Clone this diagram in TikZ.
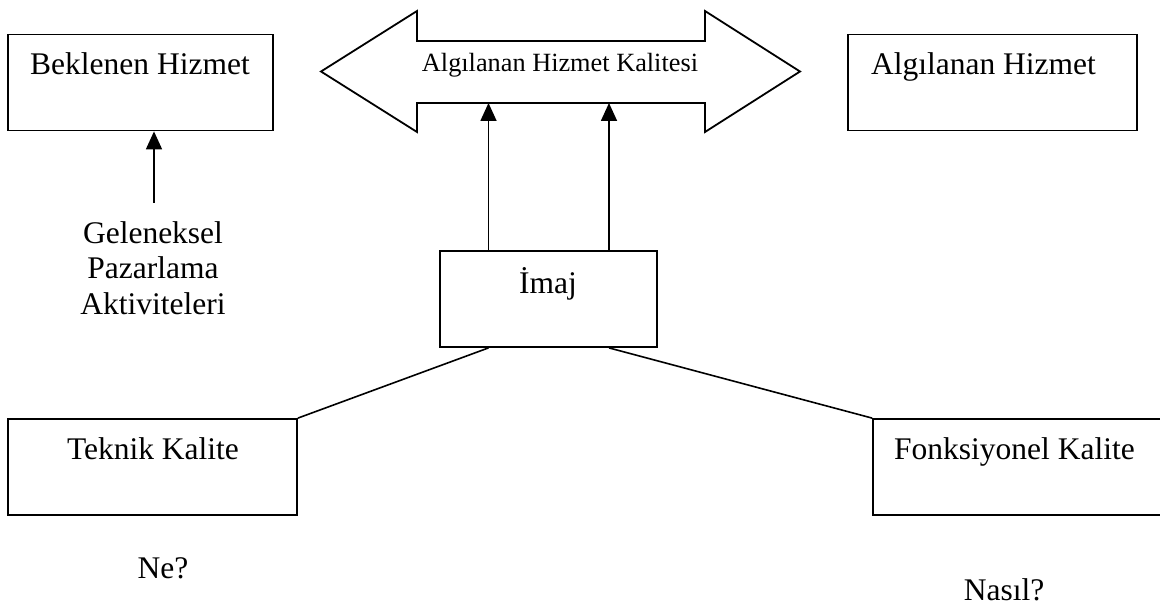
\documentclass[tikz,border=0pt]{standalone}
\usepackage{fontspec}
\setmainfont{Liberation Serif}
\usetikzlibrary{arrows.meta}
\begin{document}
\begin{tikzpicture}[x=1pt,y=-1pt,
  box/.style={draw, line width=1.8pt, inner sep=0pt, minimum width=#1, minimum height=96pt},
  lbl/.style={inner sep=0pt, anchor=base, font=\fontsize{31.5}{35.5}\selectfont},
  link/.style={line width=1.6pt},
  uparrow/.style={line width=1.7pt, -{Triangle[width=16pt,length=18pt]}}]
\useasboundingbox (0,0) rectangle (1160,607);

% boxes
\node[box=265pt] (bek) at (140.5,82.5) {};
\node[box=289pt] (alg) at (992.5,82.5) {};
\node[box=217pt] (imaj) at (548.5,299) {};
\node[box=289pt] (tek) at (152.5,467) {};
\node[box=297pt] (fonk) at (1021.5,467) {};

% box texts
\node[lbl] (bekt) at (140,75) {Beklenen Hizmet};
\node[lbl] (algt) at (983.5,75) {Algılanan Hizmet};
\node[lbl] (imajt) at (548,293) {İmaj};
\node[lbl] (tekt) at (153,459) {Teknik Kalite};
\node[lbl] (fonkt) at (1014.5,459) {Fonksiyonel Kalite};

% double-headed arrow
\draw[line width=1.8pt, line join=miter]
  (321,71.5) -- (417,11) -- (417,41) -- (705,41) -- (705,11) -- (800,71.5)
  -- (705,132) -- (705,103) -- (417,103) -- (417,132) -- cycle;
\node[lbl, font=\fontsize{26.3}{30}\selectfont] (kal) at (560,72) {Algılanan Hizmet Kalitesi};
\coordinate (a1) at (488.5,103);
\coordinate (a2) at (609,103);

% arrows from the image box up to the perceived quality
\draw[uparrow] (imaj.north -| a1) -- (a1);
\draw[uparrow] (imaj.north -| a2) -- (a2);

% traditional marketing activities
\node[inner sep=0pt, anchor=north, align=center, font=\fontsize{31.5}{35.5}\selectfont] (gel) at (153,221)
  {Geleneksel\\Pazarlama\\Aktiviteleri};
\coordinate (g1) at (154,203);
\draw[uparrow] (g1) -- (g1 |- bek.south);

% links from the image box to the two quality boxes
\draw[link] (imaj.south -| a1) -- (tek.north east);
\draw[link] (imaj.south -| a2) -- (fonk.north west);

% questions
\node[lbl] (ne) at (163,578) {Ne?};
\node[lbl] (nasil) at (1004,600) {Nasıl?};
\end{tikzpicture}
\end{document}
